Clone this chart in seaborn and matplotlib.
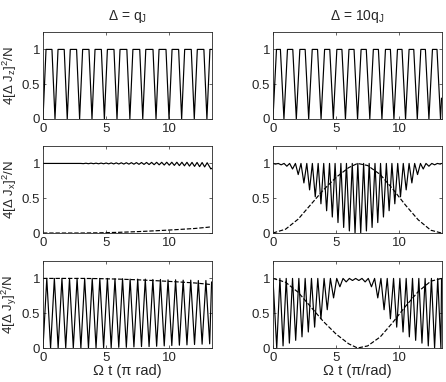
import matplotlib
matplotlib.use('Agg')
import matplotlib.pyplot as plt
import seaborn as sns

T_MAX = 13.35

# ---- row 1: 4[dJz]^2/N, times where the curve dips to 0 (top stays at 1)
jz_q_dips = [0.0, 0.95, 1.92, 2.9, 3.88, 4.86, 5.86, 6.88, 7.9, 8.95, 9.98,
             10.98, 11.98, 12.98]
jz_10q_dips = [0.0, 0.87, 1.85, 2.83, 3.81, 4.78, 5.74, 6.70, 7.67, 8.63,
               9.58, 10.5, 11.43, 12.35, 13.27]

# ---- row 2: 4[dJx]^2/N
jx_q_t = [0.0, 3.0, 3.2, 3.4, 3.6, 3.8, 4.0, 4.2, 4.4, 4.6, 4.8, 5.0, 5.2,
          5.4, 5.6, 5.8, 6.0, 6.2, 6.4, 6.6, 6.8, 7.0, 7.2, 7.4, 7.6, 7.8,
          8.0, 8.2, 8.4, 8.6, 8.8, 9.0, 9.2, 9.4, 9.6, 9.8, 10.0, 10.2, 10.4,
          10.6, 10.8, 11.0, 11.2, 11.4, 11.6, 11.8, 12.0, 12.2, 12.4, 12.6,
          12.8, 13.0, 13.3, 13.35]
jx_q_y = [1.0, 1.0, 0.997, 1.003, 0.996, 1.004, 0.996, 1.004, 0.995, 1.005,
          0.995, 1.006, 0.994, 1.007, 0.993, 1.008, 0.992, 1.009, 0.991, 1.01,
          0.99, 1.011, 0.989, 1.012, 0.987, 1.013, 0.986, 1.014, 0.984,
          1.015, 0.982, 1.016, 0.98, 1.016, 0.977, 1.017, 0.975, 1.017,
          0.972, 1.017, 0.969, 1.017, 0.966, 1.016, 0.962, 1.015, 0.958,
          1.014, 0.954, 1.013, 0.95, 1.01, 0.92, 0.93]
jx_q_dash_t = [0.0, 3.0, 4.5, 6.0, 7.5, 9.0, 10.5, 12.0, 13.0, 13.35]
jx_q_dash_y = [0.0, 0.0, 0.003, 0.01, 0.02, 0.033, 0.048, 0.065, 0.082, 0.09]

jx_10q_lo_t = [0.2, 0.65, 1.1, 1.55, 2.0, 2.45, 2.9, 3.35, 3.8, 4.25, 4.7,
               5.15, 5.6, 6.05, 6.5, 6.95, 7.4, 7.85, 8.3, 8.75, 9.2, 9.65,
               10.1, 10.55, 11.0, 11.45, 11.9, 12.35, 12.8, 13.25]
jx_10q_lo_y = [0.99, 0.98, 0.96, 0.92, 0.84, 0.72, 0.62, 0.52, 0.42, 0.32,
               0.23, 0.15, 0.08, 0.03, 0.0, 0.0, 0.03, 0.08, 0.15, 0.23, 0.32,
               0.42, 0.52, 0.62, 0.72, 0.84, 0.92, 0.96, 0.98, 0.99]
jx_10q_hi_t = [0.0, 0.42, 0.88, 1.32, 1.78, 2.22, 2.68, 3.12, 3.58, 4.02,
               4.48, 4.92, 5.38, 5.82, 6.28, 6.72, 7.18, 7.62, 8.08, 8.52,
               8.98, 9.42, 9.88, 10.32, 10.78, 11.22, 11.68, 12.12, 12.58,
               13.02, 13.35]
jx_10q_hi_y = [1.0, 1.0, 1.0, 1.0, 1.0, 1.0, 1.0, 1.0, 1.0, 1.0, 1.0, 1.0,
               1.0, 1.0, 1.0, 1.0, 1.0, 1.0, 1.0, 1.0, 1.0, 1.0, 1.0, 1.0,
               1.0, 1.0, 1.0, 1.0, 1.0, 1.0, 1.0]
jx_10q_dash_t = [0.0, 1.0, 2.0, 3.0, 4.0, 5.0, 6.0, 6.7, 7.5, 8.5, 9.5, 10.5,
                 11.5, 12.5, 13.35]
jx_10q_dash_y = [0.0, 0.055, 0.2, 0.41, 0.62, 0.8, 0.94, 1.0, 0.97, 0.84,
                 0.63, 0.4, 0.19, 0.04, 0.0]

# ---- row 3: 4[dJy]^2/N
jy_q_lo_t = [0.0, 0.6, 1.2, 1.8, 2.4, 3.0, 3.6, 4.2, 4.8, 5.4, 6.0, 6.6,
             7.2, 7.8, 8.4, 9.0, 9.6, 10.2, 10.8, 11.4, 12.0, 12.6, 13.2]
jy_q_lo_y = [0.0, 0.0, 0.0, 0.0, 0.0, 0.0, 0.0, 0.0, 0.005, 0.005, 0.01,
             0.01, 0.015, 0.02, 0.02, 0.025, 0.03, 0.035, 0.04, 0.045, 0.05,
             0.055, 0.06]
jy_q_hi_t = [0.3, 0.9, 1.5, 2.1, 2.7, 3.3, 3.9, 4.5, 5.1, 5.7, 6.3, 6.9,
             7.5, 8.1, 8.7, 9.3, 9.9, 10.5, 11.1, 11.7, 12.3, 12.9, 13.35]
jy_q_hi_y = [1.0, 1.0, 1.0, 1.0, 1.0, 1.0, 1.0, 1.0, 1.0, 0.995, 0.995, 0.99,
             0.99, 0.99, 0.985, 0.985, 0.98, 0.98, 0.975, 0.975, 0.97, 0.97,
             0.95]
jy_q_dash_t = [0.0, 3.0, 4.5, 6.0, 7.5, 9.0, 10.5, 12.0, 13.0, 13.35]
jy_q_dash_y = [1.0, 1.0, 0.997, 0.99, 0.98, 0.967, 0.952, 0.935, 0.918, 0.91]

jy_10q_lo_t = [0.3, 0.8, 1.3, 1.8, 2.3, 2.8, 3.3, 3.8, 4.3, 4.8, 5.3, 5.8,
               6.3, 6.8, 7.3, 7.8, 8.3, 8.8, 9.3, 9.8, 10.3, 10.8, 11.3,
               11.8, 12.3, 12.8, 13.3]
jy_10q_lo_y = [0.0, 0.03, 0.07, 0.11, 0.16, 0.23, 0.3, 0.42, 0.55, 0.72,
               0.88, 0.95, 0.97, 0.97, 0.95, 0.88, 0.72, 0.55, 0.42, 0.3,
               0.23, 0.16, 0.11, 0.07, 0.03, 0.0, 0.0]
jy_10q_hi_t = [0.0, 0.55, 1.05, 1.55, 2.05, 2.55, 3.05, 3.55, 4.05, 4.55,
               5.05, 5.55, 6.05, 6.55, 7.05, 7.55, 8.05, 8.55, 9.05, 9.55,
               10.05, 10.55, 11.05, 11.55, 12.05, 12.55, 13.05, 13.35]
jy_10q_hi_y = [1.0, 1.0, 1.0, 1.0, 1.0, 1.0, 1.0, 1.0, 1.0, 1.0, 1.0, 1.0,
               1.0, 1.0, 1.0, 1.0, 1.0, 1.0, 1.0, 1.0, 1.0, 1.0, 1.0, 1.0,
               1.0, 1.0, 1.0, 1.0]
jy_10q_dash_t = [0.0, 1.0, 2.0, 3.0, 4.0, 5.0, 6.0, 6.7, 7.5, 8.5, 9.5,
                 10.5, 11.5, 12.5, 13.35]
jy_10q_dash_y = [1.0, 0.945, 0.8, 0.59, 0.38, 0.2, 0.06, 0.0, 0.03, 0.16,
                 0.37, 0.6, 0.81, 0.96, 1.0]

titles = ['Δ = q$_J$', 'Δ = 10q$_J$']
ylabels = ['4[Δ J$_z$]$^2$/N', '4[Δ J$_x$]$^2$/N', '4[Δ J$_y$]$^2$/N']
xlabels = ['Ω t (π rad)', 'Ω t (π/rad)']


def plateau_line(dips, half):
    # dips to 0 with flat tops at 1 between them
    xs, ys = [], []
    for d in dips:
        if d - half > 0:
            xs.append(d - half); ys.append(1.0)
        xs.append(d); ys.append(0.0)
        if d + half < T_MAX:
            xs.append(d + half); ys.append(1.0)
    xs.append(T_MAX); ys.append(1.0 if dips[-1] + half < T_MAX else 0.3)
    return xs, ys


def merge(t_lo, y_lo, t_hi, y_hi):
    pts = sorted(zip(t_lo + t_hi, y_lo + y_hi))
    return [p[0] for p in pts], [p[1] for p in pts]


sns.set_style('ticks')
plt.rcParams['font.family'] = ['Liberation Sans', 'DejaVu Sans']
plt.rcParams['mathtext.default'] = 'regular'
plt.rcParams['axes.linewidth'] = 0.6

fig = plt.figure(figsize=(4.46, 3.82), dpi=100)
lefts = [0.0964, 0.612]
bottoms = [0.6885, 0.390, 0.089]
axes = [[fig.add_axes([l, b, 0.378, 0.2277]) for l in lefts] for b in bottoms]

curves = {
    (0, 0): [plateau_line(jz_q_dips, 0.24) + ('-',)],
    (0, 1): [plateau_line(jz_10q_dips, 0.28) + ('-',)],
    (1, 0): [(jx_q_t, jx_q_y, '-'), (jx_q_dash_t, jx_q_dash_y, '--')],
    (1, 1): [merge(jx_10q_lo_t, jx_10q_lo_y, jx_10q_hi_t, jx_10q_hi_y) + ('-',),
             (jx_10q_dash_t, jx_10q_dash_y, '--')],
    (2, 0): [merge(jy_q_lo_t, jy_q_lo_y, jy_q_hi_t, jy_q_hi_y) + ('-',),
             (jy_q_dash_t, jy_q_dash_y, '--')],
    (2, 1): [merge(jy_10q_lo_t, jy_10q_lo_y, jy_10q_hi_t, jy_10q_hi_y) + ('-',),
             (jy_10q_dash_t, jy_10q_dash_y, '--')],
}

for (r, c), lines in curves.items():
    ax = axes[r][c]
    for xs, ys, ls in lines:
        sns.lineplot(x=xs, y=ys, ax=ax, color='k', lw=0.85, linestyle=ls,
                     sort=False, estimator=None)
    ax.set_xlim(0, T_MAX)
    ax.set_ylim(0, 1.25)
    ax.set_xticks([0, 5, 10])
    ax.set_yticks([0, 0.5, 1])
    ax.set_yticklabels(['0', '0.5', '1'])
    ax.tick_params(direction='in', top=True, right=True, length=2.5,
                   width=0.5, labelsize=9.5)
    ax.tick_params(axis='x', pad=3)
    ax.tick_params(axis='y', pad=2)
    for s in ax.spines.values():
        s.set_linewidth(0.6)
    if c == 0:
        ax.set_ylabel(ylabels[r], fontsize=9.5)
        ax.yaxis.set_label_coords(-0.14, 0.5)
    if r == 0:
        ax.set_title(titles[c], fontsize=10, pad=9)
    if r == 2:
        ax.set_xlabel(xlabels[c], fontsize=10.5, labelpad=0)

fig.savefig('out.png', dpi=100)
